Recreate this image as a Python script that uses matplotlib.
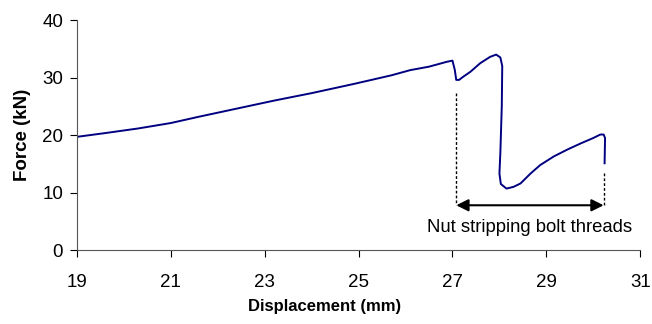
import numpy as np
import matplotlib.pyplot as plt

plt.rcParams['font.family'] = ['Liberation Sans', 'DejaVu Sans']

# force-displacement trace (mm, kN)
disp = [19.0, 19.6, 20.3, 21.0, 21.6, 22.4, 23.2, 24.0, 24.9, 25.7, 26.1,
        26.5, 26.88, 27.0, 27.05, 27.08, 27.14, 27.22, 27.38, 27.59, 27.8,
        27.93, 28.02, 28.06, 28.05, 28.02, 28.0, 28.03, 28.15, 28.3, 28.45,
        28.66, 28.87, 29.16, 29.45, 29.73, 30.0, 30.15, 30.22, 30.25, 30.24]
force = [19.7, 20.35, 21.15, 22.1, 23.2, 24.6, 26.0, 27.3, 28.9, 30.4, 31.3,
         31.9, 32.75, 32.95, 31.3, 29.6, 29.6, 30.1, 31.0, 32.5, 33.6,
         34.0, 33.5, 32.0, 25.0, 17.0, 13.3, 11.5, 10.7, 11.0, 11.6,
         13.3, 14.8, 16.3, 17.5, 18.55, 19.5, 20.1, 20.1, 19.5, 15.1]

# stripping region markers
strip_start, strip_end = 27.08, 30.22
strip_top_left, strip_top_right = 27.4, 13.4
arrow_y = 7.8
note = "Nut stripping bolt threads"

fig = plt.figure(figsize=(6.52, 3.24), dpi=100)
ax = fig.add_axes([0.118, 0.228, 0.864, 0.71])

ax.plot(disp, force, color='#000080', lw=1.4)

ax.plot([strip_start, strip_start], [strip_top_left, arrow_y], ls=(0, (2, 1.5)),
        color='black', lw=1)
ax.plot([strip_end, strip_end], [strip_top_right, arrow_y], ls=(0, (2, 1.5)),
        color='black', lw=1)
ax.annotate('', xy=(strip_start, arrow_y), xytext=(strip_end, arrow_y),
            arrowprops=dict(arrowstyle='<|-|>', color='black', lw=1.5,
                            mutation_scale=18, shrinkA=0, shrinkB=0))
ax.text((strip_start + strip_end) / 2, 3.9, note, ha='center', va='center',
        fontsize=13.3)

ax.set_xlim(19, 31)
ax.set_ylim(0, 40)
ax.set_xticks(np.arange(19, 32, 2))
ax.set_yticks(np.arange(0, 41, 10))
ax.tick_params(direction='out', length=5, labelsize=13.5, width=0.8)
ax.tick_params(axis='x', pad=12)
ax.tick_params(axis='y', pad=5)
for side in ['top', 'right']:
    ax.spines[side].set_visible(False)
for side in ['left', 'bottom']:
    ax.spines[side].set_color('#555555')
    ax.spines[side].set_linewidth(0.8)

ax.set_xlabel('Displacement (mm)', fontsize=12, fontweight='bold')
ax.xaxis.set_label_coords(0.44, -0.212)
ax.set_ylabel('Force (kN)', fontsize=13.5, fontweight='bold', labelpad=8)

fig.savefig('out.png', dpi=100)
